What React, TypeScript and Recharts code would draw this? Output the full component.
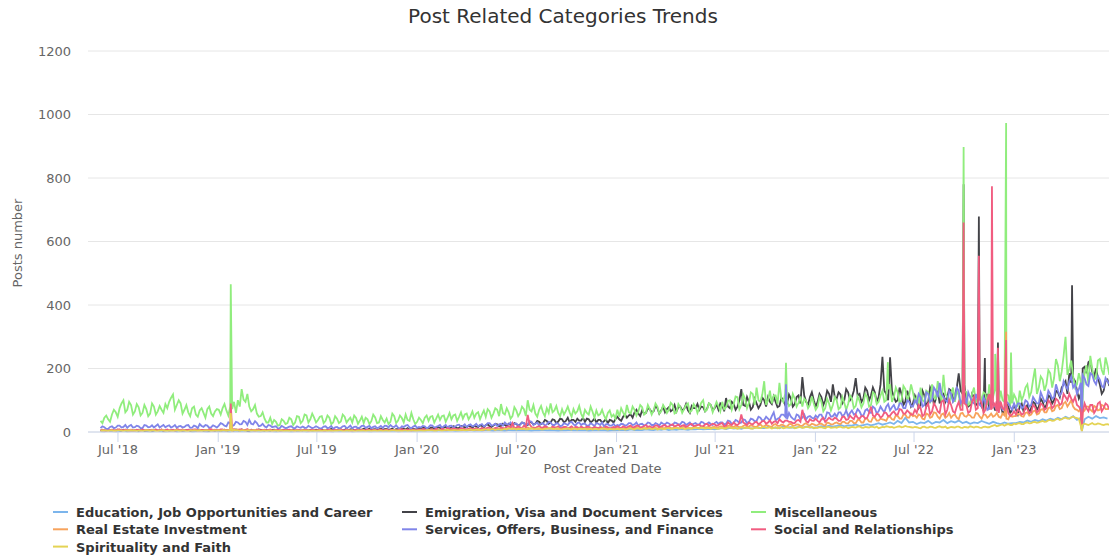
import React from 'react';
import { LineChart, Line, XAxis, YAxis, CartesianGrid } from 'recharts';

// weekly samples, first sample on startDate; "Mid" arrays are the mid-week samples
const startDate = '2018-05-30';
const stepDays = 7;
const midOffsetDays = 3.5;

const education = [
  3,2,4,3,2,3,4,2,3,3,2,4,3,2,3,4,3,2,3,4,2,3,3,4,2,3,4,3,2,3,3,
  3,4,3,2,4,3,3,4,2,3,3,2,4,3,3,2,3,4,3,2,3,3,4,2,3,3,
  3,4,3,3,2,4,3,3,4,2,3,4,3,3,2,4,3,4,3,3,4,2,3,4,3,3,4,
  4,3,5,4,3,5,4,4,5,3,4,5,4,6,4,5,4,6,5,4,6,5,4,6,5,5,
  5,6,5,4,6,5,7,5,6,5,4,6,5,7,5,6,5,6,4,5,6,5,6,4,5,5,
  6,7,5,8,6,7,6,8,7,6,8,7,9,6,8,7,9,8,7,9,8,10,8,9,10,8,
  10,12,9,13,11,12,10,14,12,11,15,13,12,16,13,14,12,18,14,15,13,16,14,17,15,14,
  15,18,16,20,17,19,22,18,21,20,24,19,22,25,21,24,28,23,26,30,25,35,28,45,30,32,
  25,30,28,35,26,32,30,38,28,34,30,36,28,32,26,30,28,35,30,26,32,28,25,30,26,28,
  28,32,30,36,32,38,34,40,36,42,38,45,40,48,42,50,38,45,40,48,42,50,44,46,42,
];
const educationMid: number[] = [];

const emigration = [
  4,5,3,6,4,5,7,4,5,6,3,5,4,6,5,4,7,5,4,6,5,3,5,6,4,5,7,4,5,6,4,
  5,6,4,7,5,6,8,5,4,6,5,7,4,5,6,5,4,6,7,5,4,6,5,7,6,5,
  6,8,5,7,9,6,8,7,5,9,6,8,10,7,6,9,8,7,10,8,6,9,11,8,7,10,9,
  10,12,9,14,11,13,15,12,14,16,13,18,15,17,20,16,19,22,18,20,24,19,22,26,21,25,
  24,28,22,30,26,32,28,35,30,38,33,40,35,30,38,42,36,32,40,35,30,38,34,28,36,40,
  40,48,45,55,62,58,68,60,72,65,75,68,62,78,70,65,80,72,68,82,75,70,78,72,85,75,
  70,85,107,75,88,80,135,82,95,78,90,85,100,110,88,95,82,100,90,105,88,115,173,95,110,100,
  95,110,100,120,150,105,118,100,125,110,170,120,105,130,115,125,110,237,120,235,110,100,120,95,110,90,
  100,85,115,95,125,105,90,120,110,130,115,185,120,95,85,110,90,80,100,75,90,70,85,65,80,70,
  70,80,65,85,75,90,80,95,85,110,100,125,140,160,185,170,130,120,205,220,190,200,150,130,165,
];
const emigrationMid = [
  6,3,5,4,7,3,5,6,4,4,6,3,5,4,7,5,3,6,5,4,7,4,6,3,6,4,5,6,3,5,6,
  4,7,5,4,8,4,6,4,7,5,8,5,6,4,7,3,6,5,4,7,5,4,8,5,4,7,
  9,5,8,10,6,9,5,10,8,6,10,7,8,11,8,6,11,9,7,11,9,7,10,12,9,8,12,
  14,8,13,10,15,9,16,11,18,12,19,14,20,13,17,21,15,24,16,25,18,26,18,22,28,20,
  30,20,32,24,35,25,38,26,40,28,42,30,45,38,32,36,45,42,30,42,38,30,40,38,30,48,
  35,55,52,45,70,50,58,75,62,82,58,80,72,65,85,78,68,88,60,75,88,80,65,90,68,88,
  90,65,80,95,70,100,85,110,70,105,75,108,80,95,112,78,108,85,118,80,110,90,115,85,125,80,
  120,85,130,95,110,125,90,135,100,130,115,95,140,100,140,95,150,130,100,130,95,140,85,130,80,115,
  75,130,80,140,85,130,115,95,135,100,140,130,150,80,120,85,115,70,120,85,70,105,60,90,60,85,
  55,90,75,60,95,70,105,75,115,90,130,110,150,120,155,160,105,200,185,225,175,170,120,160,145,
];

const miscellaneous = [
  35,45,40,55,62,75,100,70,85,65,78,60,72,58,80,65,70,88,95,118,85,90,70,62,75,55,68,60,72,58,65,
  70,75,68,80,95,100,135,95,80,72,58,50,42,30,25,32,22,35,28,40,30,48,35,52,40,45,
  38,50,35,45,30,42,33,48,38,30,44,36,28,40,34,46,30,38,42,32,50,36,44,55,35,40,32,
  38,45,35,50,42,38,52,45,40,55,48,42,58,50,45,62,55,48,65,58,70,88,55,62,50,68,
  60,72,100,65,58,70,62,75,90,68,60,72,66,62,72,65,58,70,55,64,68,56,52,60,48,42,
  48,62,85,58,70,65,78,60,72,68,80,65,75,70,85,62,78,72,90,68,80,75,100,70,85,78,
  82,95,78,100,88,110,85,105,92,120,140,95,160,100,90,115,155,95,100,88,105,92,80,98,85,90,
  80,95,75,90,85,100,78,92,88,105,82,98,90,110,85,120,95,130,100,150,110,125,100,135,115,125,
  110,140,95,125,150,105,130,180,110,120,95,115,100,125,90,140,105,95,120,150,110,100,130,95,115,90,
  105,130,115,150,125,200,140,165,150,185,170,210,190,300,200,175,150,160,185,150,200,170,230,180,210,
];
const miscellaneousMid = [
  28,52,32,70,48,90,62,95,55,88,52,85,50,90,55,82,60,75,108,70,100,58,85,50,80,48,75,45,80,50,72,
  55,88,52,72,60,80,102,120,65,85,48,62,30,45,38,20,40,25,45,22,50,28,55,30,58,30,
  48,28,52,25,50,28,55,30,45,52,26,48,45,25,55,28,50,30,25,58,28,52,30,38,60,25,45,
  28,52,48,30,55,50,32,60,52,35,62,55,40,65,58,40,68,72,45,75,50,60,75,42,78,50,
  80,50,70,85,48,82,50,60,62,82,50,55,80,48,58,82,45,60,80,45,52,70,40,68,55,70,
  75,50,62,80,52,85,55,85,55,90,58,85,60,92,58,88,60,85,62,88,60,92,65,90,62,95,
  65,72,98,70,112,72,118,75,125,85,100,118,85,130,115,88,105,120,82,120,80,112,105,75,112,70,
  110,65,105,68,110,72,110,70,115,75,112,78,120,80,125,88,115,95,135,95,140,90,145,100,150,95,
  85,100,130,90,110,160,95,120,88,140,130,80,130,85,120,95,130,125,85,105,135,88,100,120,80,118,
  80,100,140,110,165,120,175,130,195,140,230,160,240,180,225,140,185,120,210,240,165,225,195,235,180,
];

const realEstate = [
  5,4,6,5,4,7,5,6,4,5,7,5,6,4,6,5,7,4,5,6,5,4,6,5,7,5,4,6,5,6,5,
  6,5,7,6,5,8,6,5,7,6,5,4,6,5,4,6,5,4,5,6,4,5,6,5,4,5,
  5,4,6,5,4,5,6,4,5,6,4,5,6,5,4,6,5,4,6,5,7,5,4,6,5,6,5,
  5,6,5,7,6,5,7,6,8,6,7,6,8,7,9,7,8,10,8,9,12,9,10,12,14,11,
  12,10,14,11,13,10,12,14,11,13,10,12,11,13,10,12,14,11,10,12,11,13,10,11,12,10,
  11,13,10,14,12,11,15,13,12,14,11,15,13,16,12,14,13,17,14,12,16,14,18,15,13,16,
  15,18,14,20,16,18,15,22,17,19,16,24,18,20,17,25,19,22,18,26,20,23,19,28,21,24,
  22,26,20,28,24,30,25,32,27,35,28,38,30,42,32,45,36,40,35,48,38,50,42,55,45,50,
  45,52,40,55,48,60,42,58,50,45,55,40,60,48,52,45,58,42,55,50,48,60,45,52,40,48,
  50,55,48,62,55,68,58,72,62,78,68,85,75,95,90,80,70,75,68,80,65,78,70,82,72,
];
const realEstateMid = [
  4,6,5,4,6,5,7,4,6,5,4,6,5,7,4,6,5,6,4,5,7,5,4,6,5,4,6,5,7,4,6,
  5,7,5,4,7,5,6,8,5,4,7,5,4,6,5,4,6,5,4,5,6,4,5,4,6,4,
  4,6,5,3,6,5,4,6,5,4,6,5,4,6,5,4,6,5,4,7,5,4,6,5,4,5,6,
  7,5,6,5,7,6,5,8,6,8,5,7,6,8,7,9,6,8,10,7,10,11,8,14,10,13,
  10,13,11,14,10,12,14,11,13,10,12,14,10,12,14,11,12,13,9,13,10,12,12,10,13,12,
  13,11,13,11,14,13,12,15,11,13,14,12,15,13,15,12,15,14,12,15,13,16,14,17,15,14,
  18,15,19,16,20,15,19,17,21,16,21,18,22,17,23,19,23,18,24,20,24,19,25,22,26,21,
  26,22,30,24,28,26,32,27,35,28,38,30,42,33,45,36,42,38,48,40,52,42,55,45,58,52,
  55,42,58,45,62,48,55,45,60,52,45,58,50,55,45,60,48,55,45,58,52,48,58,42,55,50,
  58,50,60,52,65,55,70,62,75,65,82,72,90,80,100,72,65,62,80,70,82,68,85,72,78,
];

const services = [
  12,15,10,18,14,20,16,13,22,15,18,12,20,16,14,24,18,15,21,17,13,19,16,22,14,18,25,16,20,15,18,
  20,25,18,28,22,30,25,32,38,24,28,20,18,22,15,18,12,16,14,18,12,15,17,13,16,14,
  15,12,18,14,10,16,13,19,15,11,17,14,20,16,12,18,15,13,19,22,16,14,18,20,15,17,13,
  14,18,15,20,16,22,18,14,20,17,23,19,16,24,20,18,25,21,28,22,19,26,30,24,20,27,
  22,28,24,32,26,20,28,24,30,22,26,20,25,30,24,28,22,26,20,24,28,22,18,25,20,18,
  20,25,22,28,24,20,26,23,28,22,25,30,24,27,22,28,25,30,26,22,28,24,30,26,25,28,
  25,30,26,34,28,35,30,38,32,40,35,45,38,42,50,36,45,55,40,48,38,52,45,40,50,42,
  45,55,42,60,50,48,62,55,50,68,58,65,52,72,60,75,65,70,80,68,85,72,90,75,95,80,
  90,110,85,120,100,130,155,110,95,120,105,130,100,85,110,90,100,80,95,75,90,70,85,75,90,70,
  75,90,80,95,85,100,90,110,100,120,110,130,125,145,160,140,120,155,170,145,180,150,165,140,160,
];
const servicesMid = [
  18,10,16,12,20,14,22,19,14,20,12,22,15,21,19,14,22,19,14,22,18,14,21,13,20,12,19,22,13,21,14,
  28,20,30,18,32,24,35,22,26,34,18,26,14,20,17,11,19,12,17,13,18,13,14,19,12,18,
  11,17,12,19,15,12,18,12,20,16,12,19,13,19,16,12,19,20,14,17,21,11,16,22,12,20,16,
  19,12,21,14,19,13,22,19,14,22,16,24,21,18,26,22,17,28,20,26,24,20,24,30,26,21,
  30,20,34,22,30,26,20,32,22,28,18,28,22,32,20,30,26,20,28,18,26,30,24,20,26,22,
  26,20,28,22,30,25,20,30,22,28,20,26,30,22,30,24,32,22,30,26,24,32,24,30,22,32,
  30,24,36,25,38,28,40,28,42,34,48,36,48,36,62,42,55,48,60,42,55,40,55,48,45,52,
  55,40,62,48,58,62,50,68,60,55,72,52,68,62,80,58,80,62,88,78,70,90,75,100,82,100,
  120,80,125,95,140,110,120,100,130,95,140,90,115,125,95,120,85,110,70,100,80,95,70,95,80,90,
  90,75,100,80,110,90,125,95,130,105,150,115,160,135,175,150,135,180,150,185,160,175,145,170,150,
];

const social = [
  5,6,4,7,5,8,6,5,7,4,6,8,5,7,6,4,8,6,5,7,9,6,5,7,6,8,5,7,6,9,7,
  6,8,5,7,9,6,8,7,5,6,8,5,7,6,4,6,5,7,5,6,4,6,5,7,5,6,
  5,6,4,7,5,6,8,5,6,4,7,5,6,8,5,7,6,5,8,6,7,5,9,6,7,8,6,
  7,9,6,8,10,7,9,12,8,10,9,11,8,12,10,9,13,11,14,10,12,15,11,18,28,14,
  15,20,54,16,12,18,14,16,12,15,18,13,16,14,12,15,17,13,16,12,14,16,12,15,13,14,
  15,18,14,20,16,19,15,22,18,16,20,17,22,18,24,20,17,22,19,25,20,23,18,26,22,24,
  22,28,20,25,30,22,55,26,30,24,32,28,35,30,26,34,40,30,36,32,28,38,70,34,40,35,
  35,40,32,45,38,42,36,48,40,45,55,42,50,45,80,48,55,50,60,52,65,55,70,58,62,55,
  60,75,55,90,65,80,60,100,70,85,60,95,70,85,65,110,75,90,70,120,80,65,95,70,60,55,
  55,65,58,72,62,78,68,85,75,92,82,100,90,110,120,95,85,70,90,65,85,70,95,75,85,
];
const socialMid = [
  7,4,6,5,8,5,7,6,5,7,4,6,7,5,8,6,5,8,6,4,7,8,6,5,8,6,7,5,8,6,5,
  8,5,7,6,5,8,6,9,6,5,7,6,5,8,5,7,4,6,7,5,7,5,7,4,7,5,
  7,4,6,5,7,5,6,7,4,6,5,7,5,6,7,5,8,6,5,7,5,8,6,8,5,6,8,
  9,6,8,6,8,10,7,9,11,8,12,9,11,9,12,8,10,14,10,13,9,12,16,14,12,18,
  12,16,24,12,16,14,18,12,17,14,12,16,13,18,16,12,14,17,13,16,12,14,17,12,16,18,
  12,15,18,14,20,14,19,16,14,21,15,20,16,22,17,23,20,16,24,18,22,18,24,20,26,20,
  26,18,30,22,24,28,30,22,26,30,24,34,26,36,32,28,34,36,32,28,36,32,45,30,36,42,
  30,45,38,40,45,35,48,38,52,40,45,50,42,60,52,58,45,62,50,60,55,72,58,68,55,70,
  85,50,80,55,90,65,95,55,100,65,80,70,90,60,95,70,105,60,100,70,90,60,75,85,50,65,
  70,55,80,60,85,62,90,70,100,75,105,85,120,100,105,110,80,60,75,85,60,90,65,90,70,
];

const spirituality = [
  4,5,3,6,4,5,3,4,6,5,4,3,5,4,6,3,5,4,5,3,6,4,5,3,4,5,6,4,5,3,5,
  5,6,4,5,7,6,5,4,6,5,4,3,5,4,3,5,4,3,4,5,3,4,5,4,3,4,
  4,3,5,4,3,4,5,3,4,5,3,4,5,4,3,5,4,3,5,4,6,4,3,5,4,5,4,
  5,4,6,5,4,6,5,7,5,6,5,7,6,8,6,7,6,8,7,9,8,7,10,12,9,8,
  9,10,8,12,9,11,8,10,12,9,11,8,10,9,12,8,10,11,9,8,10,9,11,8,9,8,
  8,10,9,11,8,12,10,9,12,10,8,11,9,12,10,13,11,9,12,10,14,11,13,12,10,12,
  10,13,11,14,12,10,15,12,13,11,14,12,16,13,11,15,13,12,16,14,12,15,13,17,14,12,
  13,15,12,16,14,13,17,14,12,16,14,18,13,15,17,14,12,16,18,15,13,17,15,19,16,14,
  15,12,17,14,16,13,18,15,12,16,14,17,13,15,18,14,16,13,17,15,20,18,22,20,25,22,
  24,28,25,30,28,32,30,35,33,38,36,42,40,45,42,48,44,20,26,22,28,24,26,22,25,
];
const spiritualityMid = [
  5,4,5,3,5,4,5,6,4,3,5,4,6,5,3,4,6,3,4,5,4,6,3,5,6,4,3,5,4,5,4,
  4,5,6,4,5,4,6,5,4,6,5,4,3,5,4,3,5,4,3,4,5,3,4,5,4,3,
  5,4,3,5,4,5,3,5,4,3,5,4,3,5,4,3,5,4,3,5,4,5,4,3,5,4,5,
  4,6,5,4,6,4,7,5,6,5,7,5,7,6,8,6,8,7,9,7,9,8,9,10,11,10,
  11,8,10,9,11,8,10,12,9,11,8,10,12,8,10,11,9,8,11,10,8,11,9,10,8,10,
  10,8,11,9,11,9,12,11,9,12,10,9,12,10,12,11,13,10,11,13,12,14,11,13,12,11,
  12,11,14,12,13,12,13,14,11,13,12,15,13,15,13,12,15,13,14,16,13,16,14,15,16,13,
  15,13,16,13,15,16,14,16,14,15,17,14,16,14,16,17,14,15,17,16,15,18,16,17,15,16,
  13,16,14,17,14,16,15,17,14,15,17,14,16,14,16,17,14,16,15,18,22,20,24,23,22,26,
  27,25,29,27,31,29,33,32,37,35,40,38,44,42,46,45,42,22,24,25,24,27,23,24,22,
];

// single-day peaks and the one-day drop: [date, value]
const educationSpikes: [string, number][] = [['2023-05-05', 3]];
const emigrationSpikes: [string, number][] = [
  ['2022-09-30', 780], ['2022-10-28', 679], ['2022-11-08', 233], ['2022-12-02', 282],
  ['2023-04-17', 462], ['2023-05-05', 10],
];
const miscellaneousSpikes: [string, number][] = [
  ['2019-01-24', 465], ['2021-11-08', 218], ['2022-05-14', 220], ['2022-09-30', 898],
  ['2022-11-27', 246], ['2022-12-17', 973], ['2022-12-26', 250], ['2023-05-05', 30],
];
const realEstateSpikes: [string, number][] = [['2019-01-24', 30], ['2022-12-17', 316], ['2023-05-05', 4]];
const servicesSpikes: [string, number][] = [['2021-11-08', 150], ['2023-05-05', 8]];
const socialSpikes: [string, number][] = [
  ['2019-01-24', 90], ['2022-09-30', 660], ['2022-10-28', 555], ['2022-11-21', 774],
  ['2022-12-02', 265], ['2022-12-17', 290], ['2023-05-05', 5],
];
const spiritualitySpikes: [string, number][] = [['2019-01-24', 60], ['2023-05-05', 2]];

const seriesNames = [
  'Education, Job Opportunities and Career',
  'Emigration, Visa and Document Services',
  'Miscellaneous',
  'Real Estate Investment',
  'Services, Offers, Business, and Finance',
  'Social and Relationships',
  'Spirituality and Faith',
];
const seriesColors = ['#7cb5ec', '#434348', '#90ed7d', '#f7a35c', '#8085e9', '#f15c80', '#e4d354'];
const seriesKeys = ['edu', 'emi', 'misc', 'real', 'serv', 'soc', 'spir'];
const seriesValues = [education, emigration, miscellaneous, realEstate, services, social, spirituality];
const seriesMid = [educationMid, emigrationMid, miscellaneousMid, realEstateMid, servicesMid, socialMid, spiritualityMid];
const seriesSpikes = [educationSpikes, emigrationSpikes, miscellaneousSpikes, realEstateSpikes, servicesSpikes, socialSpikes, spiritualitySpikes];

const xTickDates = ['2018-07-01', '2019-01-01', '2019-07-01', '2020-01-01', '2020-07-01', '2021-01-01', '2021-07-01', '2022-01-01', '2022-07-01', '2023-01-01'];
const xTickLabels = ["Jul '18", "Jan '19", "Jul '19", "Jan '20", "Jul '20", "Jan '21", "Jul '21", "Jan '22", "Jul '22", "Jan '23"];
const xDomain = ['2018-05-07', '2023-07-14'];
const yTicks = [0, 200, 400, 600, 800, 1000, 1200];

const DAY = 86400000;
const ts = (s: string) => new Date(s + 'T00:00:00Z').getTime();

function buildData() {
  const map = new Map<number, any>();
  const t0 = ts(startDate);
  const put = (t: number, key: string, v: number) => {
    let row = map.get(t);
    if (!row) { row = { t }; map.set(t, row); }
    row[key] = v;
  };
  seriesValues.forEach((vals, s) => vals.forEach((v, i) => put(t0 + i * stepDays * DAY, seriesKeys[s], v)));
  seriesMid.forEach((vals, s) => vals.forEach((v, i) => put(t0 + (i * stepDays + midOffsetDays) * DAY, seriesKeys[s], v)));
  seriesSpikes.forEach((sp, s) => sp.forEach(([d, v]) => put(ts(d), seriesKeys[s], v)));
  return Array.from(map.values()).sort((a, b) => a.t - b.t);
}
const data = buildData();
const xTicks = xTickDates.map(ts);

const legendCols = [53, 402, 751];
const legendRows = [517, 534.3, 551.6];

export default function App() {
  return (
    <div style={{ position: 'absolute', left: 0, top: 0, width: 1109, height: 558, overflow: 'hidden', background: '#fff', fontFamily: '"DejaVu Sans", sans-serif' }}>
      <div style={{ position: 'absolute', left: 0, top: 0 }}>
        <LineChart width={1140} height={558} data={data} margin={{ top: 51, right: 20, bottom: 86, left: 0 }}>
          <CartesianGrid vertical={false} stroke="#e6e6e6" />
          <XAxis
            dataKey="t"
            type="number"
            domain={[ts(xDomain[0]), ts(xDomain[1])]}
            allowDataOverflow
            ticks={xTicks}
            interval={0}
            tickFormatter={(v: number) => xTickLabels[xTicks.indexOf(v)] ?? ''}
            height={40}
            tickSize={10}
            tickMargin={3}
            stroke="#ccd6eb"
            tickLine={{ stroke: '#ccd6eb' }}
            tick={{ fill: '#666666', fontSize: 13 }}
          />
          <YAxis
            type="number"
            domain={[0, 1200]}
            ticks={yTicks}
            interval={0}
            width={88}
            axisLine={false}
            tickLine={false}
            tickSize={0}
            tickMargin={17}
            tick={{ fill: '#666666', fontSize: 13 }}
          />
          {seriesKeys.map((k, i) => (
            <Line
              key={k}
              dataKey={k}
              type="linear"
              stroke={seriesColors[i]}
              strokeWidth={1.8}
              dot={false}
              activeDot={false}
              connectNulls
              isAnimationActive={false}
            />
          ))}
        </LineChart>
      </div>
      <svg width={1109} height={558} style={{ position: 'absolute', left: 0, top: 0, pointerEvents: 'none' }}>
        <text x={563} y={23} textAnchor="middle" fontSize={20} fill="#333333">Post Related Categories Trends</text>
        <text x={21.5} y={243} textAnchor="middle" fontSize={13} fill="#666666" transform="rotate(-90 21.5 243)">Posts number</text>
        <text x={602.5} y={472.5} textAnchor="middle" fontSize={13} fill="#666666">Post Created Date</text>
        {seriesNames.map((name, i) => {
          const cx = legendCols[i % 3];
          const y = legendRows[Math.floor(i / 3)];
          return (
            <g key={name}>
              <line x1={cx} x2={cx + 15} y1={y - 5} y2={y - 5} stroke={seriesColors[i]} strokeWidth={2} />
              <text x={cx + 23} y={y} fontSize={13} fontWeight="bold" fill="#333333">{name}</text>
            </g>
          );
        })}
      </svg>
    </div>
  );
}
